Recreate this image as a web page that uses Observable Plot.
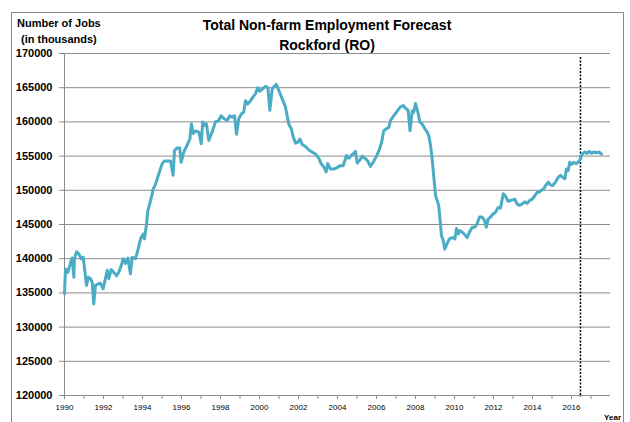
<!DOCTYPE html>
<html><head><meta charset="utf-8">
<script src="https://cdn.jsdelivr.net/npm/d3@7"></script>
<script src="https://cdn.jsdelivr.net/npm/@observablehq/plot@0.6"></script>
<style>
body{margin:0;background:#fff;}
#wrap{position:relative;width:630px;height:422px;overflow:hidden;background:#fff;}
#border{position:absolute;left:11px;top:12px;width:613px;height:430px;border:1px solid #8a8a8a;box-sizing:border-box;z-index:2;pointer-events:none;}
#chart{position:absolute;left:0;top:0;z-index:1;}
</style></head><body>
<div id="wrap"><div id="chart"></div><div id="border"></div></div>
<script>
const titleLines = ["Total Non-farm Employment Forecast", "Rockford (RO)"];
const yTitleLines = ["Number of Jobs", "(in thousands)"];
const xTitle = "Year";
const yTicks = [120000,125000,130000,135000,140000,145000,150000,155000,160000,165000,170000];
const xTicks = d3.range(1990, 2018);
const forecastStart = 2016.46;

const years = [1990.00,1990.05,1990.17,1990.27,1990.39,1990.48,1990.51,1990.62,1990.73,1990.86,1990.96,
1991.03,1991.13,1991.22,1991.33,1991.42,1991.50,1991.59,1991.71,1991.85,1991.98,
1992.10,1992.19,1992.27,1992.39,1992.53,1992.67,1992.78,1992.91,
1993.01,1993.13,1993.25,1993.38,1993.47,1993.64,1993.76,1993.90,
1994.04,1994.10,1994.21,1994.27,1994.37,1994.50,1994.55,1994.67,1994.78,1994.89,
1995.01,1995.13,1995.27,1995.44,1995.57,1995.64,1995.78,1995.91,1995.98,
1996.09,1996.15,1996.29,1996.43,1996.51,1996.60,1996.72,1996.89,
1997.01,1997.09,1997.18,1997.28,1997.40,1997.57,1997.74,1997.91,
1998.03,1998.17,1998.34,1998.48,1998.60,1998.72,1998.82,1998.94,
1999.08,1999.19,1999.28,1999.40,1999.54,1999.68,1999.79,1999.91,
2000.02,2000.14,2000.31,2000.43,2000.53,2000.65,2000.73,2000.86,2000.99,
2001.16,2001.33,2001.50,2001.63,2001.73,2001.85,2001.96,
2002.07,2002.19,2002.36,2002.53,2002.70,2002.87,
2003.04,2003.16,2003.30,2003.42,2003.50,2003.64,2003.81,2003.98,
2004.12,2004.29,2004.46,2004.58,2004.70,2004.80,2004.92,
2005.01,2005.14,2005.28,2005.44,2005.55,2005.69,2005.83,
2006.00,2006.14,2006.26,2006.37,2006.51,2006.63,2006.72,2006.86,2006.97,
2007.09,2007.23,2007.37,2007.49,2007.62,2007.72,2007.83,2007.91,
2008.00,2008.14,2008.22,2008.34,2008.48,2008.60,2008.68,2008.77,2008.86,2008.94,
2009.03,2009.11,2009.19,2009.28,2009.33,2009.42,2009.50,2009.62,2009.74,2009.88,
2010.02,2010.10,2010.19,2010.27,2010.39,2010.53,2010.65,2010.77,2010.91,
2011.04,2011.16,2011.28,2011.42,2011.54,2011.63,2011.73,2011.85,2011.96,
2012.10,2012.24,2012.36,2012.50,2012.62,2012.75,2012.87,2012.99,
2013.09,2013.21,2013.33,2013.47,2013.60,2013.73,2013.85,2013.98,
2014.12,2014.24,2014.32,2014.46,2014.58,2014.67,2014.81,2014.92,
2015.04,2015.18,2015.32,2015.44,2015.55,2015.66,2015.74,2015.83,2015.91,
2016.00,2016.12,2016.24,2016.34,2016.46,2016.55,2016.68,2016.80,2016.92,
2017.03,2017.14,2017.27,2017.41,2017.54];

const jobs = [134900,138500,138000,139000,140100,137300,140000,141000,140700,140000,140200,
138500,136100,137300,137100,136600,133400,136100,136300,136400,135600,
137100,138300,137100,138400,138000,137500,138000,139000,
140000,139300,140100,137800,140200,140000,141200,142900,
143600,142900,145100,147000,148000,149500,150200,150900,151900,152900,
153900,154300,154300,154300,152200,155800,156200,156200,154100,
155300,155800,156600,157500,159700,158300,158700,158500,
156800,160000,159500,159700,157300,158500,160000,160200,
160900,160500,160200,160900,160700,160900,158200,160500,
161200,161400,163100,162600,163100,163700,164100,165000,
164500,164800,165200,165000,161700,164800,165100,165500,164600,
163400,162200,159700,159000,157800,156900,157000,
157500,156700,156400,155900,155600,155300,
154700,153900,153400,152700,153900,153100,153100,153300,
153600,153600,155100,154700,155100,155300,155700,
154000,154400,155000,154600,154300,153500,154100,
155000,155900,157000,158700,159000,159200,160200,160800,161200,
161700,162200,162400,162000,161700,158700,161600,161400,
162700,161200,160000,159700,159000,158500,158000,156600,154400,151900,
149200,148500,147800,145100,143400,142700,141400,142200,142900,143100,
142900,144400,143600,144100,143900,143500,143100,143900,144600,
144600,145100,146100,146100,145600,144600,145800,146100,146500,
146800,147500,147400,149500,149100,148400,148500,148600,
148700,148000,147800,148000,148300,148100,148500,148700,
149200,149700,149700,150000,150200,150700,151200,150800,
150700,151200,151900,152200,151900,151700,153100,152900,154100,
153800,154100,153900,154100,154600,155300,155600,155400,155700,
155400,155600,155500,155600,155300];

const data = years.map((t, i) => ({year: t, jobs: jobs[i]}));

const chart = Plot.plot({
  width: 630,
  height: 422,
  marginLeft: 64,
  marginRight: 20,
  marginTop: 53,
  marginBottom: 27,
  style: {fontFamily: "'Liberation Sans', Arial, sans-serif", background: "transparent", color: "#000"},
  x: {domain: [1990, 2018], label: null},
  y: {domain: [120000, 170000], label: null},
  marks: [
    Plot.gridY(yTicks, {stroke: "#8c8c8c", strokeOpacity: 1, strokeWidth: 1}),
    Plot.ruleX([1990], {stroke: "#8c8c8c", strokeWidth: 1}),
    Plot.ruleY([120000], {stroke: "#8c8c8c", strokeWidth: 1}),
    Plot.axisY({ticks: yTicks, tickFormat: d => String(d), tickSize: 5, tickPadding: 7,
      fontSize: 11, fontWeight: "bold", stroke: "#8c8c8c", fill: "#000", label: null}),
    Plot.axisX({ticks: xTicks, tickFormat: d => (d % 2 === 0 ? String(d) : ""), tickSize: 4, tickPadding: 5,
      fontSize: 8, stroke: "#8c8c8c", fill: "#000", label: null}),
    Plot.ruleX([forecastStart], {y1: 169400, y2: 119700, stroke: "#000", strokeWidth: 1.5, strokeDasharray: "2,1.5"}),
    Plot.line(data, {x: "year", y: "jobs", stroke: "#4bacc6", strokeWidth: 3, strokeLinejoin: "round"})
  ]
});
document.getElementById("chart").appendChild(chart);

const svg = d3.select(chart);
const g = svg.append("g").attr("font-family", "'Liberation Sans', Arial, sans-serif").attr("font-weight", "bold").attr("fill", "#000");
g.append("text").attr("x", 327).attr("y", 30).attr("text-anchor", "middle").attr("font-size", 14).text(titleLines[0]);
g.append("text").attr("x", 327).attr("y", 50).attr("text-anchor", "middle").attr("font-size", 14).text(titleLines[1]);
g.append("text").attr("x", 17).attr("y", 27).attr("text-anchor", "start").attr("font-size", 11).text(yTitleLines[0]);
g.append("text").attr("x", 21).attr("y", 43).attr("text-anchor", "start").attr("font-size", 11).text(yTitleLines[1]);
g.append("text").attr("x", 621).attr("y", 420).attr("text-anchor", "end").attr("font-size", 8).text(xTitle);
</script>
</body></html>
